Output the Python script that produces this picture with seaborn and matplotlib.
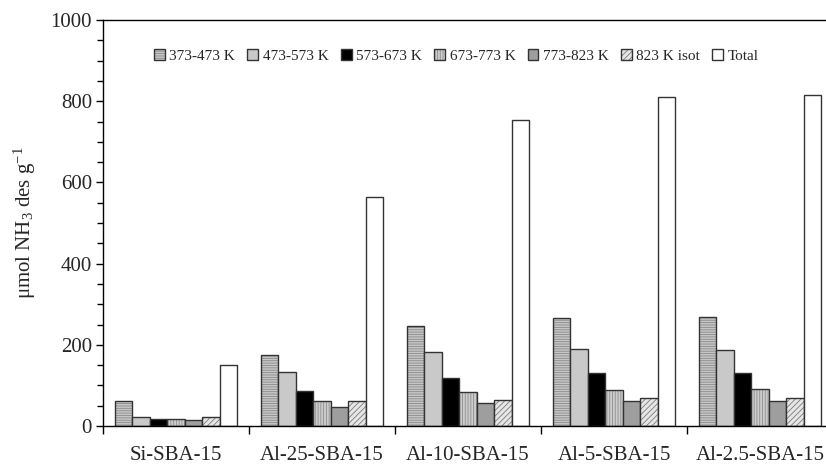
import numpy as np
import pandas as pd
import matplotlib
matplotlib.use("Agg")
import matplotlib.pyplot as plt
import seaborn as sns
from matplotlib.patches import Patch
from matplotlib.colors import to_rgba
from matplotlib.ticker import MultipleLocator

sns.set_theme(style="ticks")
plt.rcParams["font.family"] = ["Liberation Serif", "DejaVu Serif"]
plt.rcParams["mathtext.fontset"] = "custom"
plt.rcParams["mathtext.rm"] = "Liberation Serif"
plt.rcParams["mathtext.it"] = "Liberation Serif:italic"
plt.rcParams["hatch.linewidth"] = 0.6

# NH3 desorbed per temperature range (µmol/g)
samples = ["Si-SBA-15", "Al-25-SBA-15", "Al-10-SBA-15", "Al-5-SBA-15", "Al-2.5-SBA-15"]
ranges = ["373-473 K", "473-573 K", "573-673 K", "673-773 K", "773-823 K", "823 K isot", "Total"]
r373_473 = [62, 176, 247, 265, 268]
r473_573 = [23, 132, 182, 190, 187]
r573_673 = [17, 86, 119, 131, 131]
r673_773 = [17, 62, 84, 89, 92]
r773_823 = [14, 48, 56, 62, 62]
r823_isot = [23, 62, 65, 69, 69]
total = [150, 565, 754, 811, 816]

series = [r373_473, r473_573, r573_673, r673_773, r773_823, r823_isot, total]
df = pd.DataFrame(
    [(s, r, v) for r, vals in zip(ranges, series) for s, v in zip(samples, vals)],
    columns=["sample", "range", "value"],
)

faces = ["#c6c6c6", "#c9c9c9", "#000000", "#cbcbcb", "#9e9e9e", "#e6e6e6", "#ffffff"]
hatches = ["-------", None, None, "||||||", None, "//////", None]
hatch_cols = ["#8a8a8a", "#333333", "#333333", "#8f8f8f", "#333333", "#7a7a7a", "#333333"]
edge = "#333333"

fig = plt.figure(figsize=(8.26, 4.68), dpi=100)
ax = fig.add_axes([103 / 826, 42 / 468, 730 / 826, 406 / 468])

sns.barplot(data=df, x="sample", y="value", hue="range", order=samples,
            hue_order=ranges, palette=faces, saturation=1, width=0.84,
            edgecolor=edge, linewidth=1.0, legend=False, ax=ax)

for cont, fc, h, hc in zip(ax.containers, faces, hatches, hatch_cols):
    for p in cont:
        p.set_facecolor(fc)
        p.set_edgecolor(edge)
        p.set_linewidth(1.0)
        if h:
            p.set_hatch(h)
            p._hatch_color = to_rgba(hc)

ax.set_xlim(-0.5, 4.5)
ax.set_ylim(0, 1000)

for side in ["left", "top", "bottom"]:
    ax.spines[side].set_color("black")
    ax.spines[side].set_linewidth(1.0)
ax.spines["right"].set_visible(False)

ax.yaxis.set_major_locator(MultipleLocator(200))
ax.yaxis.set_minor_locator(MultipleLocator(50))
ax.tick_params(axis="y", which="major", direction="out", length=5, width=1,
               color="black", labelsize=15, pad=3, left=True)
ax.tick_params(axis="y", which="minor", direction="out", length=4, width=1,
               color="black", left=True)

ax.set_xticks(np.arange(-0.5, 5, 1))
ax.set_xticklabels([])
ax.set_xticks(np.arange(5), minor=True)
ax.set_xticklabels(samples, minor=True)
ax.tick_params(axis="x", which="major", direction="out", length=6, width=1,
               color="black", bottom=True)
ax.tick_params(axis="x", which="minor", length=0, pad=14.5, labelsize=15)

ax.set_xlabel("")
ax.set_ylabel(r"μmol NH$_3$ des g$^{-1}$", fontsize=15, labelpad=9)

handles = []
for fc, h, hc in zip(faces, hatches, hatch_cols):
    hp = Patch(facecolor=fc, edgecolor=edge, hatch=h, linewidth=1.0)
    if h:
        hp._hatch_color = to_rgba(hc)
    handles.append(hp)
ax.legend(handles, ranges, loc="center", bbox_to_anchor=(0.484, 0.912), ncol=7,
          frameon=False, fontsize=11, handlelength=0.7, handleheight=0.7,
          handletextpad=0.3, columnspacing=0.8, borderaxespad=0)

fig.savefig("out.png", dpi=100)
